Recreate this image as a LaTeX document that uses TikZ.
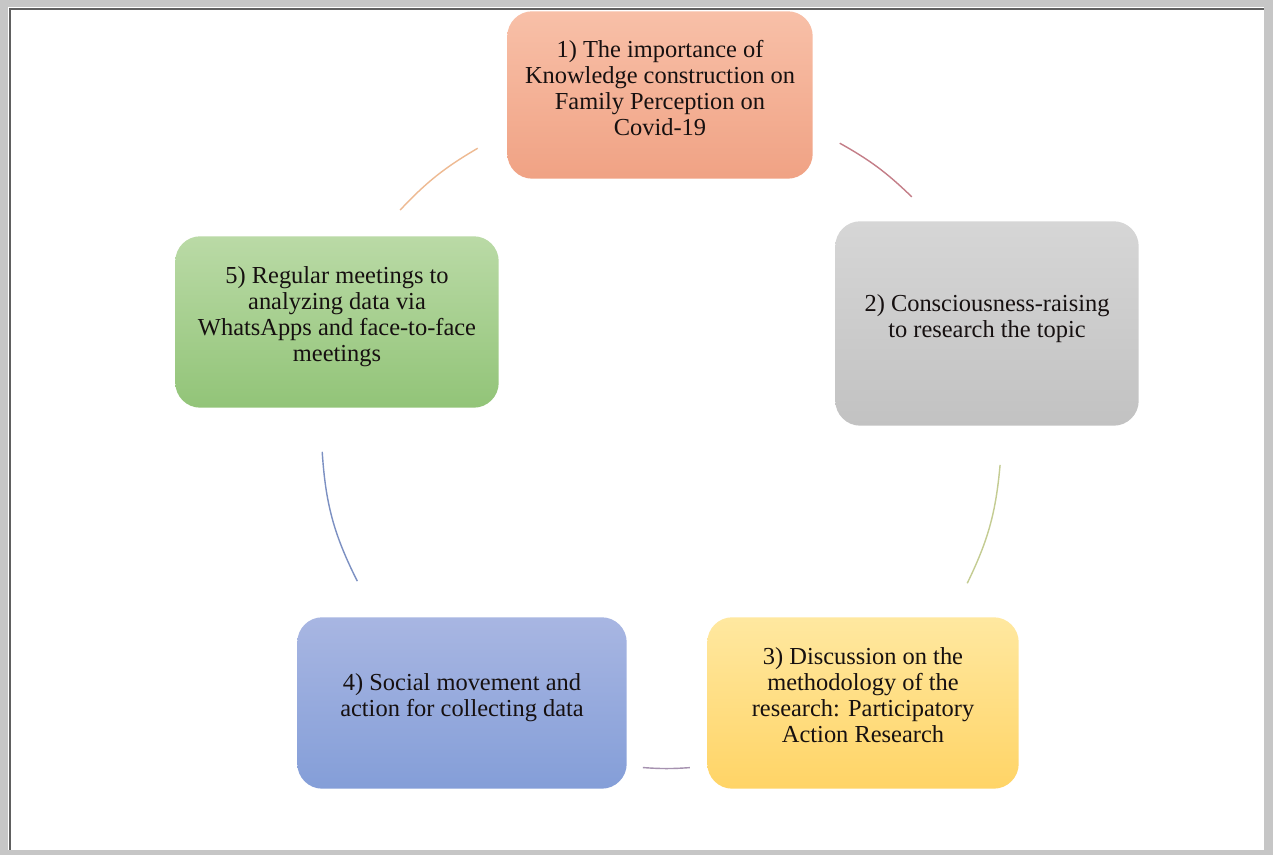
\documentclass[tikz,border=0pt]{standalone}
\usepackage{fontspec}
\setmainfont{Liberation Serif}
\usepackage{tikz}
\usetikzlibrary{calc,backgrounds}

\definecolor{salmonT}{RGB}{248,192,168}
\definecolor{salmonB}{RGB}{240,162,132}
\definecolor{greyT}{RGB}{214,214,214}
\definecolor{greyB}{RGB}{194,194,194}
\definecolor{goldT}{RGB}{255,232,160}
\definecolor{goldB}{RGB}{255,212,102}
\definecolor{blueT}{RGB}{168,182,226}
\definecolor{blueB}{RGB}{132,158,216}
\definecolor{greenT}{RGB}{186,218,166}
\definecolor{greenB}{RGB}{146,196,120}
\definecolor{lnRed}{RGB}{196,126,136}
\definecolor{lnOlive}{RGB}{196,204,146}
\definecolor{lnPurple}{RGB}{166,146,176}
\definecolor{lnBlue}{RGB}{124,144,194}
\definecolor{lnOrange}{RGB}{238,186,146}
\definecolor{txt}{RGB}{22,16,16}

\begin{document}
\begin{tikzpicture}[line width=0.8pt,
                    font=\fontsize{13.9}{14.8}\selectfont]
\tikzstyle{step box}=[align=center,text=txt,inner sep=0pt,text depth=0.3cm]
\tikzstyle{box shade}=[rounded corners=0.5cm]
\useasboundingbox (0,0) rectangle (25.46,17.1);

\node[step box,minimum width=6.08cm,minimum height=3.32cm] (1) at (13.2,15.2)
      {1) The importance of\\Knowledge construction on\\Family Perception on\\Covid-19};
\node[step box,minimum width=6.04cm,minimum height=4.06cm] (2) at (19.74,10.63)
      {2) Consciousness-raising\\to research the topic};
\node[step box,minimum width=6.2cm,minimum height=3.4cm] (3) at (17.26,3.04)
      {3) Discussion on the\\methodology of the\\research: Participatory\\Action Research};
\node[step box,minimum width=6.56cm,minimum height=3.4cm] (4) at (9.24,3.04)
      {4) Social movement and\\action for collecting data};
\node[step box,minimum width=6.44cm,minimum height=3.4cm] (5) at (6.74,10.66)
      {5) Regular meetings to\\analyzing data via\\WhatsApps and face-to-face\\meetings};

\begin{scope}[on background layer]
% frame
\fill[gray!45] (0,0) rectangle (25.46,17.1);
\fill[white] (0.16,0.1) rectangle (25.28,16.96);
\draw[gray!75!black,line width=1pt] (0.2,0.1) -- (0.2,16.92) -- (25.28,16.92);
% boxes
\shade[box shade,top color=salmonT,bottom color=salmonB]
  (1.south west) -- (1.south east) -- (1.north east) -- (1.north west) -- cycle;
\shade[box shade,top color=greyT,bottom color=greyB]
  (2.south west) -- (2.south east) -- (2.north east) -- (2.north west) -- cycle;
\shade[box shade,top color=goldT,bottom color=goldB]
  (3.south west) -- (3.south east) -- (3.north east) -- (3.north west) -- cycle;
\shade[box shade,top color=blueT,bottom color=blueB]
  (4.south west) -- (4.south east) -- (4.north east) -- (4.north west) -- cycle;
\shade[box shade,top color=greenT,bottom color=greenB]
  (5.south west) -- (5.south east) -- (5.north east) -- (5.north west) -- cycle;
\end{scope}

% points on the cycle
\coordinate (c) at (13.2,8.3);
\coordinate (a12) at ($(c)+(58.8:6.94)$);
\coordinate (b12) at ($(c)+(44:7.0)$);
\coordinate (a23) at ($(c)+(-4.2:6.82)$);
\coordinate (b23) at ($(c)+(-25:6.78)$);
\coordinate (a34) at ($(c)+(-84.8:6.58)$);
\coordinate (b34) at ($(c)+(-93:6.56)$);
\coordinate (a45) at ($(c)+(-155:6.68)$);
\coordinate (b45) at ($(c)+(-178:6.76)$);
\coordinate (a51) at ($(c)+(138.5:6.94)$);
\coordinate (b51) at ($(c)+(122:6.88)$);

\draw[lnRed] (a12) to[bend left=7.4] (b12);
\draw[lnOlive] (a23) to[bend left=10.4] (b23);
\draw[lnPurple] (a34) to[bend left=4.1] (b34);
\draw[lnBlue] (a45) to[bend left=11.5] (b45);
\draw[lnOrange] (a51) to[bend left=8.2] (b51);
\end{tikzpicture}
\end{document}
